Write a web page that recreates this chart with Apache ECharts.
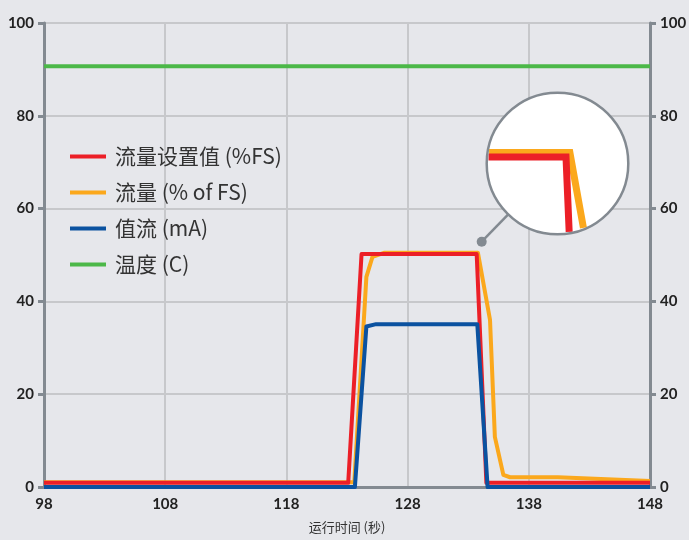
<!DOCTYPE html>
<html><head><meta charset="utf-8">
<script src="https://cdn.jsdelivr.net/npm/echarts@6/dist/echarts.min.js"></script>
<style>html,body{margin:0;padding:0;background:#e6e7eb}#c{width:689px;height:540px}</style>
</head><body><div id="c"></div>
<script>
const seriesNames = ['流量设置值 (%FS)', '流量 (% of FS)', '值流 (mA)', '温度 (C)'];
const setpointT = [98, 123.1, 124.2, 133.7, 134.5, 148];
const setpointV = [0.9, 0.9, 50.2, 50.2, 0.9, 0.9];
const flowT = [98, 123.6, 124.6, 125.1, 126.1, 133.8, 134.8, 135.2, 135.9, 136.45, 140.4, 148];
const flowV = [1, 1, 45.3, 49.6, 50.5, 50.5, 36, 10.8, 2.6, 2.1, 2.1, 1.3];
const currentT = [98, 123.65, 124.6, 125.4, 133.75, 134.6, 148];
const currentV = [0, 0, 34.6, 35.1, 35.1, 0, 0];
const tempT = [98, 148];
const tempV = [90.7, 90.7];
const xAxisName = '运行时间 (秒)';
const xRange = [98, 148], xStep = 10;
const yRange = [0, 100], yStep = 20;

const colors = ['#ec1f27', '#fba81c', '#0b52a0', '#4cb848'];
const zip = (t, v) => t.map((x, i) => [x, v[i]]);
const dark = '#838a91', light = '#c7c8cb';
const labelFont = { fontSize: 15, fontWeight: 'bold', color: '#222', fontFamily: 'Lato' };

const chart = echarts.init(document.getElementById('c'), null, { renderer: 'canvas' });

function yAxis(pos) {
  return {
    type: 'value', position: pos, min: yRange[0], max: yRange[1], interval: yStep,
    axisLine: { show: true, lineStyle: { color: dark, width: 3 } },
    axisTick: { show: true, length: 6, lineStyle: { color: dark, width: 3 } },
    axisLabel: Object.assign({ margin: 10 }, labelFont),
    splitLine: { show: pos === 'left', lineStyle: { color: light, width: 2 } }
  };
}

function lineSeries(i, data) {
  return {
    name: seriesNames[i], type: 'line', data: data, showSymbol: false, symbol: 'none',
    lineStyle: { color: colors[i], width: 4, join: 'round' },
    itemStyle: { color: colors[i] }, z: 3, animation: false
  };
}

const option = {
  backgroundColor: '#e6e7eb',
  animation: false,
  grid: { left: 44, right: 39, top: 23, bottom: 53, containLabel: false, outerBoundsMode: 'none' },
  legend: {
    orient: 'vertical', left: 65, top: 141, itemWidth: 36, itemHeight: 4, itemGap: 15,
    icon: 'rect', data: seriesNames,
    textStyle: { fontSize: 21, color: '#333', fontFamily: 'Noto Sans CJK SC', padding: [0, 0, 0, 4] }
  },
  xAxis: [{
    type: 'value', min: xRange[0], max: xRange[1], interval: xStep,
    name: xAxisName, nameLocation: 'middle', nameGap: 34,
    nameTextStyle: { fontSize: 13, color: '#333', fontFamily: 'Noto Sans CJK SC' },
    axisLine: { show: true, lineStyle: { color: light, width: 2 } },
    axisTick: { show: false },
    axisLabel: Object.assign({ margin: 10 }, labelFont),
    splitLine: { show: true, lineStyle: { color: light, width: 2 } }
  }, {
    type: 'value', position: 'top', min: xRange[0], max: xRange[1], interval: xStep,
    axisLine: { show: true, lineStyle: { color: dark, width: 3 } },
    axisTick: { show: false }, axisLabel: { show: false }, splitLine: { show: false }
  }],
  yAxis: [yAxis('left'), yAxis('right')],
  series: [
    Object.assign(lineSeries(3, zip(tempT, tempV)), { z: 2 }),
    Object.assign(lineSeries(1, zip(flowT, flowV)), { z: 3 }),
    Object.assign(lineSeries(0, zip(setpointT, setpointV)), { z: 4 }),
    Object.assign(lineSeries(2, zip(currentT, currentV)), { z: 5 })
  ]
};
chart.setOption(option);

// Magnifier inset (drawn from the same data, magnified around the set-point corner)
(function () {
  const C = [557.5, 163.5], R = 70.8, S = 3.2;
  const focusMain = chart.convertToPixel({ gridIndex: 0 }, [setpointT[3], setpointV[3]]);
  const focusInset = [566, 157];
  const map = p => [focusInset[0] + S * (p[0] - focusMain[0]), focusInset[1] + S * (p[1] - focusMain[1])];
  function clip(pts, r) {
    const runs = []; let cur = null;
    for (let i = 0; i < pts.length - 1; i++) {
      const p0 = pts[i], p1 = pts[i + 1];
      const d = [p1[0] - p0[0], p1[1] - p0[1]], f = [p0[0] - C[0], p0[1] - C[1]];
      const a = d[0] * d[0] + d[1] * d[1], b = 2 * (f[0] * d[0] + f[1] * d[1]), c = f[0] * f[0] + f[1] * f[1] - r * r;
      const disc = b * b - 4 * a * c;
      if (a === 0 || disc < 0) { cur = null; continue; }
      const s = Math.sqrt(disc);
      const t0 = Math.max(0, (-b - s) / (2 * a)), t1 = Math.min(1, (-b + s) / (2 * a));
      if (t0 >= t1) { cur = null; continue; }
      const A = [p0[0] + d[0] * t0, p0[1] + d[1] * t0], B = [p0[0] + d[0] * t1, p0[1] + d[1] * t1];
      if (cur && t0 === 0) { cur.push(B); }
      else { cur = [A, B]; runs.push(cur); }
      if (t1 < 1) cur = null;
    }
    return runs;
  }
  function insetLines(t, v, color) {
    const pts = t.map((x, i) => map(chart.convertToPixel({ gridIndex: 0 }, [x, v[i]])));
    return clip(pts, R - 1.5).map(run => ({
      type: 'polyline', z: 101, silent: true,
      shape: { points: run },
      style: { stroke: color, lineWidth: 7, fill: null, lineJoin: 'miter' }
    }));
  }
  const dot = [481.7, 241.7];
  const dir = [C[0] - dot[0], C[1] - dot[1]]; const dl = Math.hypot(dir[0], dir[1]);
  const edge = [C[0] - R * dir[0] / dl, C[1] - R * dir[1] / dl];
  const g = [
    { type: 'circle', z: 100, silent: true, shape: { cx: C[0], cy: C[1], r: R }, style: { fill: '#ffffff' } },
    ...insetLines(flowT, flowV, colors[1]),
    ...insetLines(setpointT, setpointV, colors[0]),
    { type: 'circle', z: 102, silent: true, shape: { cx: C[0], cy: C[1], r: R }, style: { fill: null, stroke: dark, lineWidth: 2.5 } },
    { type: 'line', z: 102, silent: true, shape: { x1: dot[0], y1: dot[1], x2: edge[0], y2: edge[1] }, style: { stroke: dark, lineWidth: 2.5 } },
    { type: 'circle', z: 102, silent: true, shape: { cx: dot[0], cy: dot[1], r: 5 }, style: { fill: dark } }
  ];
  chart.setOption({ graphic: g });
})();
</script>
</body></html>
